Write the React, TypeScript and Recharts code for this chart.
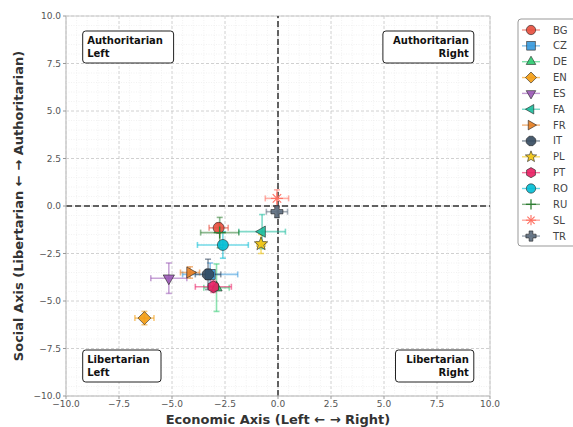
import React from "react"
import {
  ScatterChart,
  Scatter,
  XAxis,
  YAxis,
  CartesianGrid,
  ReferenceLine,
  ReferenceArea,
  ReferenceDot,
  ErrorBar,
} from "recharts"

// country codes and their positions on the two axes
const countries = ["BG", "CZ", "DE", "EN", "ES", "FA", "FR", "IT", "PL", "PT", "RO", "RU", "SL", "TR"]
const economic = [-2.8, -3.2, -2.9, -6.3, -5.15, -0.75, -4.15, -3.3, -0.8, -3.05, -2.6, -2.75, -0.05, -0.05]
const social = [-1.15, -3.6, -4.3, -5.9, -3.8, -1.35, -3.5, -3.6, -2.0, -4.25, -2.05, -1.4, 0.4, -0.3]
const economicErr = [0.45, 1.3, 0.6, 0.45, 0.85, 1.1, 0.45, 0.6, 0.2, 0.85, 1.2, 0.9, 0.55, 0.5]
const socialErr = [0.25, 0.6, 1.25, 0.35, 0.8, 0.9, 0.3, 0.8, 0.5, 0.3, 0.7, 0.8, 0.45, 0.3]

const colors = [
  "#e74c3c", "#3498db", "#2ecc71", "#f39c12", "#9b59b6", "#1abc9c", "#e67e22",
  "#34495e", "#f1c40f", "#e91e63", "#00bcd4", "#2e7d32", "#ff6f61", "#5d6d7e",
]
const markers = [
  "circle", "square", "triUp", "diamond", "triDown", "triLeft", "triRight",
  "octagon", "star", "hexagon", "circle", "plus", "asterisk", "plusFilled",
]

const ticks = [-10, -7.5, -5, -2.5, 0, 2.5, 5, 7.5, 10]
const minorTicks = Array.from({ length: 41 }, (_, i) => -10 + i * 0.5).filter((v) => v % 2.5 !== 0)

const quadrants = [
  { lines: ["Authoritarian", "Left"], x: -9, y: 9, side: "left", top: true },
  { lines: ["Authoritarian", "Right"], x: 9, y: 9, side: "right", top: true },
  { lines: ["Libertarian", "Left"], x: -9, y: -9, side: "left", top: false },
  { lines: ["Libertarian", "Right"], x: 9, y: -9, side: "right", top: false },
]

const FONT = "'DejaVu Sans', sans-serif"

const fmt = (v: number) => (v < 0 ? "\u2212" : "") + Math.abs(v).toFixed(1)

function poly(n: number, r: number, rot: number) {
  const pts: string[] = []
  for (let i = 0; i < n; i++) {
    const a = rot + (i * 2 * Math.PI) / n
    pts.push(`${(r * Math.cos(a)).toFixed(2)},${(r * Math.sin(a)).toFixed(2)}`)
  }
  return pts.join(" ")
}

function starPts(r: number, ri: number) {
  const pts: string[] = []
  for (let i = 0; i < 10; i++) {
    const a = -Math.PI / 2 + (i * Math.PI) / 5
    const rr = i % 2 === 0 ? r : ri
    pts.push(`${(rr * Math.cos(a)).toFixed(2)},${(rr * Math.sin(a)).toFixed(2)}`)
  }
  return pts.join(" ")
}

function MarkerShape({ type, color, s = 1 }: { type: string; color: string; s?: number }) {
  const common = { fill: color, fillOpacity: 0.9, stroke: "#222", strokeWidth: 0.6 }
  switch (type) {
    case "circle":
      return <circle r={5.5 * s} {...common} />
    case "square":
      return <rect x={-5 * s} y={-5 * s} width={10 * s} height={10 * s} {...common} />
    case "triUp":
      return <polygon points={poly(3, 6.5 * s, -Math.PI / 2)} {...common} />
    case "triDown":
      return <polygon points={poly(3, 6.5 * s, Math.PI / 2)} {...common} />
    case "triLeft":
      return <polygon points={poly(3, 6.5 * s, Math.PI)} {...common} />
    case "triRight":
      return <polygon points={poly(3, 6.5 * s, 0)} {...common} />
    case "diamond":
      return <polygon points={poly(4, 6.5 * s, 0)} {...common} />
    case "octagon":
      return <polygon points={poly(8, 6 * s, Math.PI / 8)} {...common} />
    case "hexagon":
      return <polygon points={poly(6, 6 * s, -Math.PI / 2)} {...common} />
    case "star":
      return <polygon points={starPts(7 * s, 3 * s)} {...common} />
    case "plus":
      return (
        <g stroke={color} strokeWidth={1.3}>
          <line x1={-6 * s} y1={0} x2={6 * s} y2={0} />
          <line x1={0} y1={-6 * s} x2={0} y2={6 * s} />
        </g>
      )
    case "asterisk":
      return (
        <g stroke={color} strokeWidth={1.1}>
          {[0, 1, 2, 3].map((k) => {
            const a = (k * Math.PI) / 4
            const r = 6 * s
            return <line key={k} x1={-r * Math.cos(a)} y1={-r * Math.sin(a)} x2={r * Math.cos(a)} y2={r * Math.sin(a)} />
          })}
        </g>
      )
    case "plusFilled": {
      const a = 6 * s
      const b = 2.2 * s
      const pts = `${-b},${-a} ${b},${-a} ${b},${-b} ${a},${-b} ${a},${b} ${b},${b} ${b},${a} ${-b},${a} ${-b},${b} ${-a},${b} ${-a},${-b} ${-b},${-b}`
      return <polygon points={pts} {...common} />
    }
    default:
      return <circle r={5} {...common} />
  }
}

function QuadBox(props: any) {
  const { cx, cy, q } = props
  const w = Math.max(...q.lines.map((l: string) => l.length)) * 6.3 + 9
  const h = 32
  const left = q.side === "left" ? cx - 4.5 : cx + 5 - w
  const top = q.top ? cy - 4 : cy + 5 - h
  return (
    <g>
      <rect x={left} y={top} width={w} height={h} rx={3} fill="#fff" stroke="#222" strokeWidth={1} />
      {q.lines.map((l: string, i: number) => (
        <text
          key={i}
          x={cx}
          y={top + 13 + i * 12.5}
          textAnchor={q.side === "left" ? "start" : "end"}
          fontFamily={FONT}
          fontWeight="bold"
          fontSize={10}
          fill="#111"
        >
          {l}
        </text>
      ))}
    </g>
  )
}

function LegendBox() {
  return (
    <svg width={56} height={230} style={{ position: "absolute", left: 517, top: 18 }}>
      <rect x={1} y={1} width={60} height={227} rx={3} fill="#fff" stroke="#999" strokeWidth={1} />
      {countries.map((c, i) => {
        const y = 12 + i * 15.85
        return (
          <g key={c}>
            <line x1={5} y1={y} x2={23} y2={y} stroke={colors[i]} strokeOpacity={0.6} strokeWidth={1.4} />
            <g transform={`translate(14,${y})`}>
              <MarkerShape type={markers[i]} color={colors[i]} s={0.85} />
            </g>
            <text x={36} y={y + 3.5} fontFamily={FONT} fontSize={10} fill="#444">
              {c}
            </text>
          </g>
        )
      })}
    </svg>
  )
}

export default function App() {
  const series = countries.map((c, i) => ({
    name: c,
    data: [{ x: economic[i], y: social[i], xErr: economicErr[i], yErr: socialErr[i] }],
  }))

  return (
    <div style={{ position: "absolute", left: 0, top: 0, width: 573, height: 427, background: "#fff" }}>
      <ScatterChart width={573} height={427} margin={{ top: 16, right: 83, bottom: 0, left: 0 }}>
        {minorTicks.map((v) => (
          <ReferenceLine key={"mx" + v} x={v} stroke="#ececec" strokeWidth={0.7} strokeDasharray="1 1.5" />
        ))}
        {minorTicks.map((v) => (
          <ReferenceLine key={"my" + v} y={v} stroke="#ececec" strokeWidth={0.7} strokeDasharray="1 1.5" />
        ))}
        <CartesianGrid stroke="#c4c4c4" strokeDasharray="3 2" strokeWidth={0.8} />
        <XAxis
          type="number"
          dataKey="x"
          domain={[-10, 10]}
          ticks={ticks}
          tickFormatter={fmt}
          height={31}
          tickSize={3}
          tickMargin={2}
          axisLine={{ stroke: "#ccc" }}
          tickLine={{ stroke: "#999" }}
          tick={{ fontSize: 9, fill: "#555", fontFamily: FONT }}
          allowDataOverflow
          label={{
            content: (p: any) => (
              <text
                x={p.viewBox.x + p.viewBox.width / 2}
                y={p.viewBox.y + p.viewBox.height - 3}
                textAnchor="middle"
                fontFamily={FONT}
                fontWeight="bold"
                fontSize={13}
                fill="#333"
              >
                Economic Axis (Left ← → Right)
              </text>
            ),
          }}
        />
        <YAxis
          type="number"
          dataKey="y"
          domain={[-10, 10]}
          ticks={ticks}
          tickFormatter={fmt}
          width={66}
          tickSize={3}
          tickMargin={2}
          axisLine={{ stroke: "#ccc" }}
          tickLine={{ stroke: "#999" }}
          tick={{ fontSize: 9, fill: "#555", fontFamily: FONT }}
          allowDataOverflow
          label={{
            content: (p: any) => {
              const cx = p.viewBox.x + 18
              const cy = p.viewBox.y + p.viewBox.height / 2
              return (
                <text
                  x={cx}
                  y={cy}
                  transform={`rotate(-90 ${cx} ${cy})`}
                  textAnchor="middle"
                  dominantBaseline="central"
                  fontFamily={FONT}
                  fontWeight="bold"
                  fontSize={13}
                  fill="#333"
                >
                  Social Axis (Libertarian ← → Authoritarian)
                </text>
              )
            },
          }}
        />
        <ReferenceArea x1={-10} x2={10} y1={-10} y2={10} fill="none" fillOpacity={0} stroke="#ccc" strokeWidth={1} />
        <ReferenceLine x={0} stroke="#333" strokeWidth={1.5} strokeDasharray="6 3" />
        <ReferenceLine y={0} stroke="#333" strokeWidth={1.5} strokeDasharray="6 3" />
        {quadrants.map((q) => (
          <ReferenceDot
            key={q.lines.join(" ")}
            x={q.x}
            y={q.y}
            r={0}
            shape={(p: any) => <QuadBox cx={p.cx} cy={p.cy} q={q} />}
          />
        ))}
        {series.map((s, i) => (
          <Scatter
            key={s.name}
            name={s.name}
            data={s.data}
            isAnimationActive={false}
            shape={(p: any) => (
              <g transform={`translate(${p.cx},${p.cy})`}>
                <MarkerShape type={markers[i]} color={colors[i]} />
              </g>
            )}
          >
            <ErrorBar dataKey="xErr" direction="x" width={3} stroke={colors[i]} strokeOpacity={0.55} strokeWidth={1.6} />
            <ErrorBar dataKey="yErr" direction="y" width={3} stroke={colors[i]} strokeOpacity={0.55} strokeWidth={1.6} />
          </Scatter>
        ))}
      </ScatterChart>
      <LegendBox />
    </div>
  )
}
